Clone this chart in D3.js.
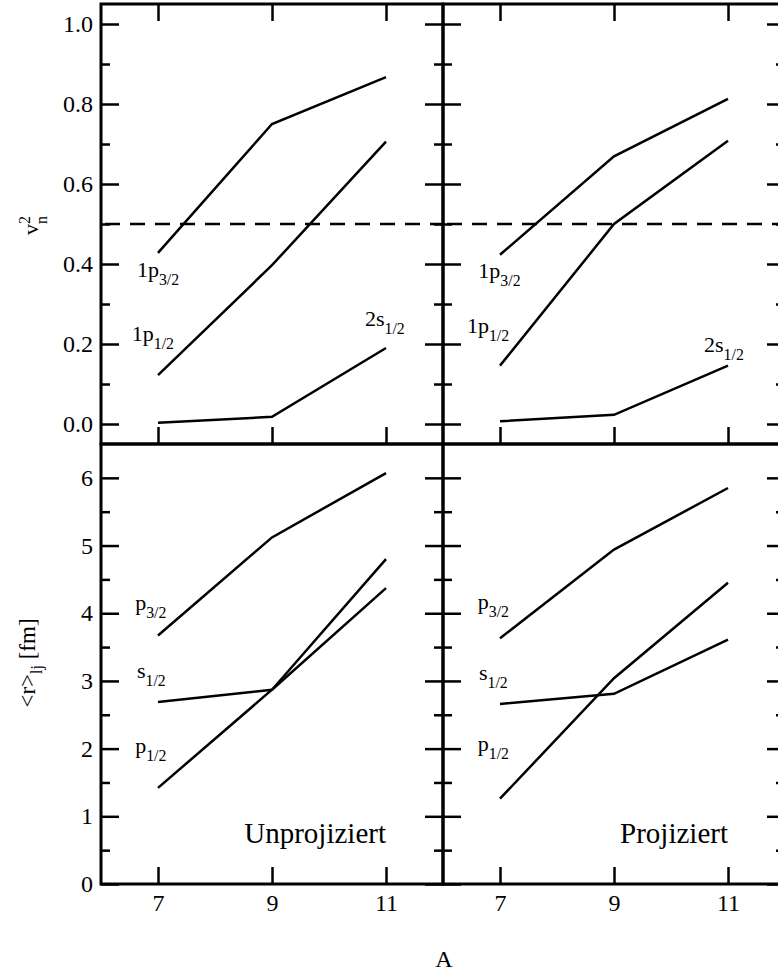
<!DOCTYPE html>
<html>
<head>
<meta charset="utf-8">
<script src="https://cdn.jsdelivr.net/npm/d3@7"></script>
<style>
  body { margin: 0; background: #fff; }
  svg { display: block; }
  text { font-family: "Liberation Serif", "DejaVu Serif", serif !important; fill: #000; }
</style>
</head>
<body>
<div id="chart"></div>
<script>
// mass numbers on the x axis
const massNumbers = [7, 9, 11];

// occupation v_n^2 (upper row)
const occP32Unproj = [0.428, 0.750, 0.867];
const occP12Unproj = [0.122, 0.397, 0.706];
const occS12Unproj = [0.003, 0.018, 0.190];
const occP32Proj = [0.423, 0.669, 0.813];
const occP12Proj = [0.146, 0.500, 0.708];
const occS12Proj = [0.007, 0.023, 0.146];

// radii <r>_lj in fm (lower row)
const radP32Unproj = [3.67, 5.12, 6.07];
const radS12Unproj = [2.69, 2.87, 4.37];
const radP12Unproj = [1.42, 2.87, 4.80];
const radP32Proj = [3.63, 4.94, 5.85];
const radS12Proj = [2.66, 2.81, 3.61];
const radP12Proj = [1.26, 3.04, 4.45];

// ticks
const xTickValues = [7, 9, 11];
const occMajorTicks = [0, 0.2, 0.4, 0.6, 0.8, 1.0];
const occMinorTicks = [0.1, 0.3, 0.5, 0.7, 0.9];
const radMajorTicks = [0, 1, 2, 3, 4, 5, 6];
const radMinorTicks = [0.5, 1.5, 2.5, 3.5, 4.5, 5.5];
const halfLine = 0.5;

const width = 778, height = 975;
const svg = d3.select("#chart").append("svg")
  .attr("width", width).attr("height", height);

const panelW = 342;
const colX = [101, 443];
const topRow = [4, 444];
const botRow = [444, 884];
const majorLen = 18, minorLen = 9;

const occY = d3.scaleLinear().domain([-0.05, 1.05]).range(topRow.slice().reverse());
const radY = d3.scaleLinear().domain([0, 6.5]).range(botRow.slice().reverse());

const line = (x, y) => d3.line().x((d, i) => x(massNumbers[i])).y(d => y(d));

// label with subscript
function subLabel(g, x, y, main, sub, size, anchor) {
  const t = g.append("text")
    .attr("x", x).attr("y", y)
    .attr("font-size", size)
    .attr("text-anchor", anchor || "start");
  t.append("tspan").text(main);
  if (sub) t.append("tspan").attr("dy", 8).attr("font-size", size * 0.72).text(sub);
  return t;
}

function drawAxes(g, x, y, major, minor, fmt, opts) {
  const strokeAxis = sel => {
    sel.attr("font-family", null);
    sel.select(".domain").remove();
    sel.selectAll("line").attr("stroke", "#000").attr("stroke-width", 2.5);
    sel.selectAll("text").attr("font-size", 24);
  };
  const [x0, x1] = x.range();
  const [y1, y0] = y.range();
  // left side
  g.append("g").attr("transform", `translate(${x0},0)`)
    .call(d3.axisLeft(y).tickValues(major).tickSizeInner(-majorLen).tickSizeOuter(0).tickPadding(8)
      .tickFormat(opts.leftLabels ? fmt : ""))
    .call(strokeAxis);
  g.append("g").attr("transform", `translate(${x0},0)`)
    .call(d3.axisLeft(y).tickValues(minor).tickSizeInner(-minorLen).tickSizeOuter(0).tickFormat(""))
    .call(strokeAxis);
  // right side
  g.append("g").attr("transform", `translate(${x1},0)`)
    .call(d3.axisRight(y).tickValues(major).tickSizeInner(-majorLen).tickSizeOuter(0).tickFormat(""))
    .call(strokeAxis);
  g.append("g").attr("transform", `translate(${x1},0)`)
    .call(d3.axisRight(y).tickValues(minor).tickSizeInner(-minorLen).tickSizeOuter(0).tickFormat(""))
    .call(strokeAxis);
  if (opts.topTicks) {
    g.append("g").attr("transform", `translate(0,${y0})`)
      .call(d3.axisTop(x).tickValues(xTickValues).tickSizeInner(-17).tickSizeOuter(0).tickFormat(""))
      .call(strokeAxis);
  }
  g.append("g").attr("transform", `translate(0,${y1})`)
    .call(d3.axisBottom(x).tickValues(xTickValues).tickSizeInner(-17).tickSizeOuter(0).tickPadding(10)
      .tickFormat(opts.bottomLabels ? d3.format("d") : ""))
    .call(strokeAxis);
  g.append("rect")
    .attr("x", x0).attr("y", y0).attr("width", x1 - x0).attr("height", y1 - y0)
    .attr("fill", "none").attr("stroke", "#000").attr("stroke-width", 3);
}

const panels = [
  { col: 0, occ: [occP32Unproj, occP12Unproj, occS12Unproj], rad: [radP32Unproj, radS12Unproj, radP12Unproj],
    title: "Unprojiziert",
    occLabels: [["1p", "3/2", 6.63, 0.367], ["1p", "1/2", 6.54, 0.208], ["2s", "1/2", 10.63, 0.244]],
    radLabels: [["p", "3/2", 6.6, 4.05], ["s", "1/2", 6.63, 3.04], ["p", "1/2", 6.6, 1.94]] },
  { col: 1, occ: [occP32Proj, occP12Proj, occS12Proj], rad: [radP32Proj, radS12Proj, radP12Proj],
    title: "Projiziert",
    occLabels: [["1p", "3/2", 6.62, 0.364], ["1p", "1/2", 6.42, 0.227], ["2s", "1/2", 10.58, 0.181]],
    radLabels: [["p", "3/2", 6.61, 4.06], ["s", "1/2", 6.63, 3.01], ["p", "1/2", 6.61, 1.96]] }
];

panels.forEach(p => {
  const x = d3.scaleLinear().domain([6, 12]).range([colX[p.col], colX[p.col] + panelW]);
  const g = svg.append("g");

  // upper panel
  drawAxes(g, x, occY, occMajorTicks, occMinorTicks, d3.format(".1f"),
    { leftLabels: p.col === 0, topTicks: true, bottomLabels: false });
  g.append("line")
    .attr("x1", x.range()[0]).attr("x2", x.range()[1])
    .attr("y1", occY(halfLine)).attr("y2", occY(halfLine))
    .attr("stroke", "#000").attr("stroke-width", 2.5)
    .attr("stroke-dasharray", "15,10").attr("stroke-dashoffset", -4);
  p.occ.forEach(s => {
    g.append("path").attr("d", line(x, occY)(s))
      .attr("fill", "none").attr("stroke", "#000").attr("stroke-width", 2.5);
  });
  p.occLabels.forEach(l => subLabel(g, x(l[2]), occY(l[3]), l[0], l[1], 22));

  // lower panel
  drawAxes(g, x, radY, radMajorTicks, radMinorTicks, d3.format("d"),
    { leftLabels: p.col === 0, topTicks: false, bottomLabels: true });
  p.rad.forEach(s => {
    g.append("path").attr("d", line(x, radY)(s))
      .attr("fill", "none").attr("stroke", "#000").attr("stroke-width", 2.5);
  });
  p.radLabels.forEach(l => subLabel(g, x(l[2]), radY(l[3]), l[0], l[1], 22));
  g.append("text")
    .attr("x", x(11)).attr("y", radY(0.6))
    .attr("text-anchor", "end").attr("font-size", 29)
    .text(p.title);
});

// axis titles
const v = svg.append("text")
  .attr("transform", "translate(38,235) rotate(-90)")
  .attr("text-anchor", "start").attr("font-size", 22);
v.append("tspan").text("v");
v.append("tspan").attr("font-size", 16).attr("dy", 9).text("n");
v.append("tspan").attr("font-size", 16).attr("dx", -8).attr("dy", -17).text("2");

const r = svg.append("text")
  .attr("transform", "translate(35,663) rotate(-90)")
  .attr("text-anchor", "middle").attr("font-size", 23);
r.append("tspan").text("<r>");
r.append("tspan").attr("font-size", 16).attr("dy", 7).text("lj");
r.append("tspan").attr("dy", -7).text(" [fm]");

svg.append("text")
  .attr("x", 444).attr("y", 967)
  .attr("text-anchor", "middle").attr("font-size", 24)
  .text("A");
</script>
</body>
</html>
